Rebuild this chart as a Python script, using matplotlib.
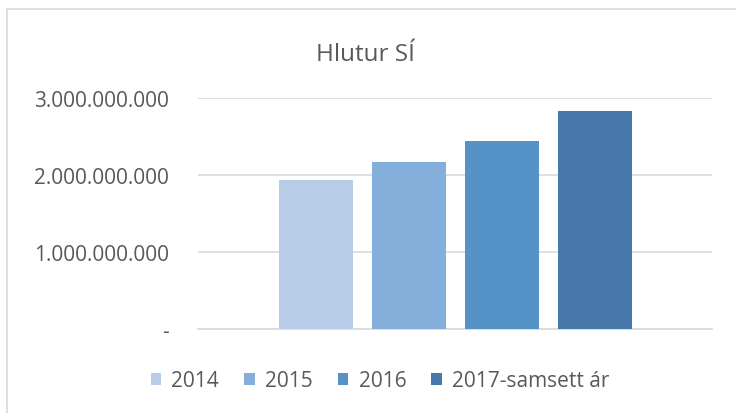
import matplotlib
matplotlib.use("Agg")
import matplotlib.pyplot as plt
from matplotlib.lines import Line2D

series = ["2014", "2015", "2016", "2017-samsett ár"]
values = [1.939e9, 2.173e9, 2.446e9, 2.835e9]
colors = ["#B7CCE7", "#85AFDB", "#5592C7", "#4679AA"]
yticks = [0, 1e9, 2e9, 3e9]
ytick_labels = ["-", "1.000.000.000", "2.000.000.000", "3.000.000.000"]
title = "Hlutur SÍ"

plt.rcParams['font.family'] = ['Open Sans', 'DejaVu Sans']
txt = "#595959"

fig = plt.figure(figsize=(7.36, 4.14), dpi=100)
W, H = 736, 414
ax = fig.add_axes([198 / W, 1 - 330 / H, 514 / W, 231 / H])

stride = 93 / 514
width = 74 / 514
handles = []
for i, (s, v, c) in enumerate(zip(series, values, colors)):
    x = (i - 1.5) * stride
    b = ax.bar(x, v, width=width, color=c, label=s, zorder=3)
    handles.append(b)

ax.set_xlim(-0.5, 0.5)
ax.set_ylim(0, 3e9)
ax.set_yticks(yticks)
ax.set_yticklabels(ytick_labels, color=txt, fontsize=15)
ax.set_xticks([])
ax.grid(axis='y', color='#D9D9D9', linewidth=1.2, zorder=0)
for sp in ax.spines.values():
    sp.set_visible(False)
ax.spines['bottom'].set_visible(True)
ax.spines['bottom'].set_color('#D9D9D9')
ax.spines['bottom'].set_linewidth(1.2)
ax.tick_params(axis='y', length=0, pad=21)

fig.text(365 / W, 1 - 55 / H, title, ha='center', va='center', fontsize=17.5, color=txt)

leg = fig.legend(handles=handles, labels=series, loc='center', bbox_to_anchor=(380 / W, 1 - 382 / H),
                 ncol=4, frameon=False, fontsize=15, handlelength=0.5, handleheight=0.5,
                 handletextpad=0.5, columnspacing=1.2, labelcolor=txt)

# chart border
fig.add_artist(Line2D([7 / W, 1], [1 - 10 / H, 1 - 10 / H], color='#D9D9D9', lw=1.2, transform=fig.transFigure))
fig.add_artist(Line2D([7 / W, 7 / W], [0, 1 - 10 / H], color='#D9D9D9', lw=1.2, transform=fig.transFigure))

fig.savefig("out.png", dpi=100)
